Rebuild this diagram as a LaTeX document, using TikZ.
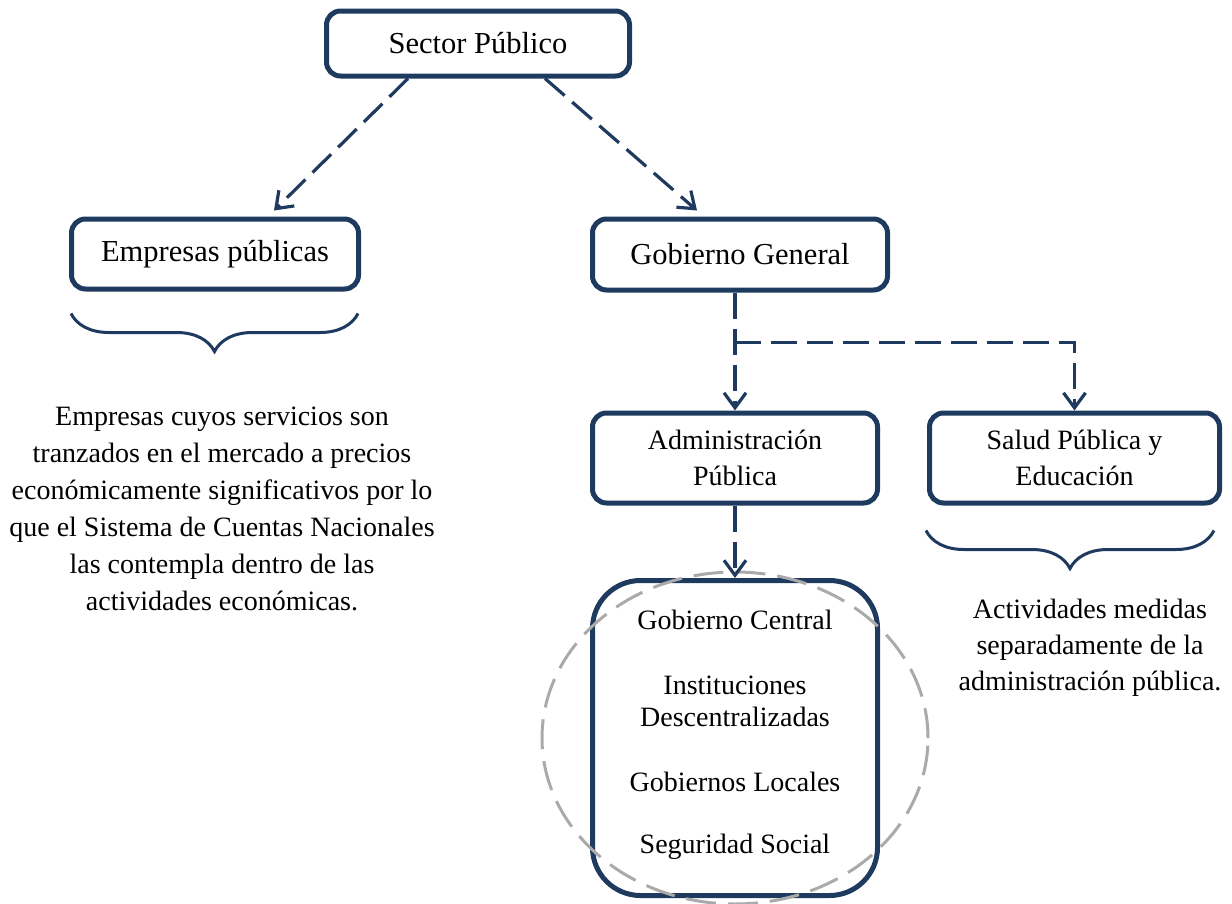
\documentclass[tikz,border=0pt]{standalone}
\usepackage{fontspec}
\setmainfont{Liberation Serif}
\usetikzlibrary{arrows.meta, positioning, calc, decorations.pathreplacing}
\definecolor{navy}{RGB}{31,58,95}
\definecolor{lgrey}{RGB}{170,170,170}

\begin{document}
\begin{tikzpicture}[x=1pt, y=-1pt,
	box/.style={draw=navy, line width=5pt, rounded corners=14pt, inner sep=0pt, align=center, font=\fontsize{28}{36}\selectfont},
	big/.style={font=\fontsize{30.5}{36}\selectfont},
	link/.style={draw=navy, line width=3.2pt, dash pattern=on 26pt off 10pt, -{Straight Barb[length=15pt, width=22pt]}},
	brc/.style={draw=navy, line width=3pt, decorate, decoration={brace, mirror, amplitude=38pt}},
	txt/.style={align=center, font=\fontsize{28}{37}\selectfont}]
	\useasboundingbox (0,0) rectangle (1232,903);
	\node[box, big, minimum width=303pt, minimum height=65pt] (sp) at (478,43.5) {Sector Público};
	\node[box, big, minimum width=287pt, minimum height=70pt] (ep) at (215,254) {Empresas públicas};
	\node[box, big, minimum width=295pt, minimum height=71pt] (gg) at (740,254.5) {Gobierno General};
	\node[box, minimum width=285pt, minimum height=90pt] (ap) at (735,458) {Administración\\Pública};
	\node[box, minimum width=290pt, minimum height=90pt] (se) at (1074.5,458) {Salud Pública y\\Educación};
	\node[box, rounded corners=48pt, minimum width=285pt, minimum height=315pt] (grp) at (735,738) {};
	\draw[lgrey, line width=3pt, dash pattern=on 30pt off 12pt] (grp.center) ellipse [x radius=193pt, y radius=166pt];
	\node[txt, font=\fontsize{28}{32}\selectfont] (gl) at (735,735) {Gobierno Central\\[33pt] Instituciones\\ Descentralizadas\\[33pt] Gobiernos Locales\\[30pt] Seguridad Social};

	\draw[link] ([xshift=-70pt]sp.south) -- ([xshift=59pt,yshift=6pt]ep.north);
	\draw[link] ([xshift=67pt]sp.south) -- ([xshift=-43pt,yshift=6pt]gg.north);
	\coordinate (br) at ($(gg.south)+(0,50)$);
	\draw[link] (gg.south -| ap.north) -- (ap.north);
	\draw[link] (br -| ap.north) -- (br -| se.north) -- (se.north);
	\draw[link] (ap.south) -- (grp.north);

	\draw[brc] ([xshift=2pt,yshift=-22pt]ep.south west) -- ([xshift=-3pt,yshift=-22pt]ep.south east);
	\draw[brc] ([xshift=-1pt,yshift=-25pt]se.south west) -- ([xshift=-8pt,yshift=-25pt]se.south east);

	\node[txt] (et) at (222,509) {Empresas cuyos servicios son\\tranzados en el mercado a precios\\económicamente significativos por lo\\que el Sistema de Cuentas Nacionales\\las contempla dentro de las\\actividades económicas.};
	\node[txt, font=\fontsize{28}{36}\selectfont] (st) at (1090,648) {Actividades medidas\\separadamente de la\\administración pública.};
\end{tikzpicture}
\end{document}
